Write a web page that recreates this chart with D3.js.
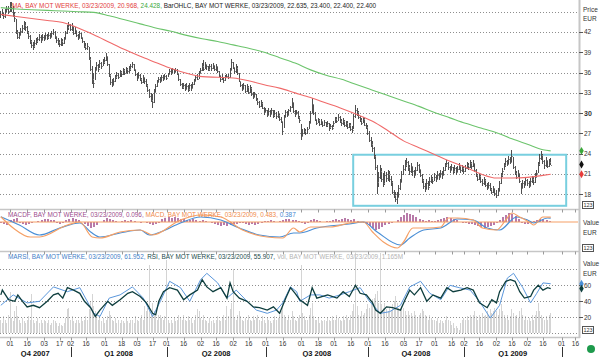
<!DOCTYPE html>
<html>
<head>
<meta charset="utf-8">
<script src="https://cdn.jsdelivr.net/npm/d3@7/dist/d3.min.js"></script>
<style>
html,body{margin:0;padding:0;background:#fff;}
svg{display:block;}
text{font-family:"Liberation Sans",Arial,Helvetica,sans-serif;}
</style>
</head>
<body>
<svg id="chart" width="600" height="357"></svg>
<script>
// ================= DATA =================
const firstBar = "2007-10-24";
const lastBar = "2009-03-23";
const holidays = ["2007-12-24","2007-12-25","2007-12-26","2007-12-31","2008-01-01","2008-03-21","2008-03-24","2008-05-01",
  "2008-12-24","2008-12-25","2008-12-26","2008-12-31","2009-01-01","2009-04-10","2009-04-13"];

// daily OHLC (high, low, close), BAY MOT WERKE, EUR
const hi = [
45.1,45.4,45.0,45.4,45.9,45.8,46.4,46.5,45.9,44.9, 43.9,42.3,42.0,42.6,43.1,43.6,43.5,42.9,42.2,41.5,
40.8,40.5,40.8,41.1,41.3,41.7,41.5,41.7,41.6,41.9, 41.7,42.0,41.9,42.2,42.5,42.1,41.4,41.1,40.8,41.1,
40.9,41.3,42.2,43.0,43.5,43.2,43.3,42.8,42.7,42.2, 41.7,42.1,41.8,41.3,40.7,40.3,40.4,39.8,38.3,37.0,
35.9,36.8,37.5,37.3,37.8,37.6,38.0,38.3,38.9,38.4, 37.3,35.8,35.1,35.2,35.7,36.1,35.9,36.4,36.3,36.7,
36.6,36.8,36.7,36.9,37.2,37.5,37.3,36.6,35.9,36.1, 35.8,35.2,35.6,35.4,35.0,34.3,33.6,33.0,32.8,33.5,
34.3,34.9,35.4,35.3,35.6,35.6,35.8,35.7,36.0,36.5, 36.5,36.7,36.6,36.7,36.5,35.9,35.0,34.5,34.5,34.3,
34.4,34.1,34.5,34.3,34.6,35.1,35.7,35.8,36.2,36.7, 37.4,37.9,37.6,37.3,37.0,37.3,37.2,37.4,37.1,37.2,
36.9,36.3,35.6,35.8,35.4,35.7,35.8,35.8,36.7,38.0, 37.6,36.8,37.2,36.9,35.9,34.8,34.3,34.5,34.1,34.3,
34.0,34.1,33.8,33.2,33.2,32.9,32.3,31.8,31.9,31.6, 30.9,30.8,30.5,30.7,30.4,30.8,30.5,30.4,30.2,30.3,
29.9,29.4,28.9,29.8,30.4,30.3,30.6,31.1,32.3,31.7, 30.4,30.5,30.3,29.6,28.4,27.6,27.8,27.7,27.9,28.8,
30.3,32.3,31.4,30.1,29.2,29.3,29.1,29.2,28.9,29.0, 28.7,28.8,28.6,28.4,28.3,28.9,29.5,29.5,29.9,29.6,
29.1,29.3,29.0,28.9,28.8,28.6,28.5,28.1,29.9,31.2, 30.8,30.3,29.6,29.3,29.4,29.3,28.6,28.2,27.3,26.4,
25.9,25.0,23.8,22.4,21.3,22.3,21.9,21.2,21.5,21.3, 21.6,21.4,20.7,19.9,18.7,18.4,18.3,19.4,20.3,21.5,
22.3,23.0,23.4,22.9,22.3,22.6,22.1,21.6,22.1,22.8, 22.5,21.8,21.0,20.3,19.6,20.2,19.9,20.5,20.9,20.6,
21.1,20.8,21.4,21.2,21.6,21.5,22.0,22.7,23.1,22.8, 22.2,22.5,22.1,22.3,22.0,22.2,22.6,22.3,22.3,22.0,
22.3,22.8,22.6,23.0,22.8,23.1,22.6,21.8,21.0,21.2, 20.8,20.3,20.5,20.2,19.7,19.8,19.6,19.0,19.3,19.0,
18.6,18.9,19.9,21.1,21.9,22.7,23.3,23.1,23.6,23.5, 24.5,23.5,22.2,21.5,21.6,21.2,19.6,20.1,20.0,20.5,
20.3,19.9,20.4,20.7,20.5,21.1,21.6,22.8,23.9,24.4, 23.9,23.0,23.5,23.1,23.2,23.4];
const lo = [
44.1,44.3,43.9,44.1,44.8,44.7,45.0,45.0,44.2,43.5, 41.7,40.9,41.0,41.4,41.9,42.3,42.2,41.7,41.0,40.2,
39.6,39.4,39.7,40.1,40.3,40.7,40.4,40.8,40.6,40.9, 40.8,41.0,40.9,41.2,41.5,41.0,40.4,40.1,39.8,40.0,
39.9,40.2,41.0,41.7,42.3,42.1,42.1,41.6,41.7,41.3, 40.8,41.0,40.9,40.3,39.6,39.3,39.3,37.8,36.2,34.3,
33.7,34.9,36.3,36.1,36.7,36.6,36.9,37.3,37.7,37.0, 35.3,34.2,33.8,34.1,34.6,35.1,35.0,35.3,35.4,35.6,
35.6,35.9,35.8,36.0,36.3,36.7,36.2,35.5,34.8,35.0, 34.7,34.3,34.5,34.3,33.9,33.1,32.3,31.6,30.8,31.5,
33.1,33.9,34.5,34.4,34.6,34.7,34.9,34.9,35.3,35.7, 35.6,35.9,35.8,35.9,35.6,34.8,34.0,33.5,33.6,33.3,
33.4,33.1,33.3,33.3,33.6,34.2,34.7,34.9,35.1,35.8, 36.3,36.3,36.5,36.4,36.2,36.3,36.3,36.5,36.2,36.3,
35.9,35.3,34.6,34.9,34.5,34.8,35.2,35.0,35.2,36.3, 36.5,35.8,36.0,35.6,34.6,33.9,33.3,33.5,33.0,33.2,
32.8,33.0,32.5,32.1,32.2,31.8,31.2,30.7,30.9,30.6, 29.8,30.0,29.4,29.7,29.5,29.8,29.3,29.5,29.2,29.3,
28.9,28.5,26.7,27.8,29.4,29.4,29.8,30.2,30.8,30.0, 29.5,29.7,29.1,28.6,26.0,26.4,26.9,26.7,26.9,27.7,
28.4,30.0,29.7,28.8,28.3,28.5,28.1,28.3,28.0,28.1, 27.9,28.0,27.4,27.7,27.5,27.9,28.5,28.5,28.8,28.6,
28.1,28.3,27.9,28.0,27.6,27.8,27.3,27.1,27.6,29.3, 29.6,29.2,28.7,28.3,28.5,28.1,27.6,26.8,25.8,25.0,
24.3,23.2,21.6,18.1,19.1,20.2,19.8,19.1,19.4,19.8, 20.0,19.8,19.2,18.1,17.4,16.9,16.5,17.4,18.6,19.7,
20.9,21.5,22.0,21.4,20.9,21.2,20.7,20.4,20.9,21.5, 21.2,20.6,19.7,18.8,18.3,18.8,18.6,19.2,19.7,19.5,
19.9,19.8,20.3,20.1,20.6,20.3,20.9,21.5,22.0,21.6, 21.1,21.4,21.0,21.2,20.9,21.2,21.6,21.2,21.3,21.0,
21.3,21.8,21.6,21.9,21.7,22.0,21.3,20.6,20.0,20.1, 19.7,19.3,19.4,19.1,18.6,18.9,18.5,18.0,18.2,17.8,
17.5,17.7,18.4,19.5,20.6,21.6,22.1,22.2,22.4,22.5, 22.7,21.7,20.9,20.3,20.5,19.7,18.1,18.8,19.0,19.2,
19.2,18.9,19.1,19.6,19.4,19.6,20.5,21.1,22.2,23.0, 22.5,21.8,22.1,21.9,22.0,22.4];
const cl = [
44.6,44.9,44.3,45.0,45.4,45.1,45.8,45.5,44.6,44.0, 42.0,41.3,41.6,42.2,42.6,43.1,42.8,42.0,41.4,40.6,
40.1,39.9,40.3,40.6,40.9,41.2,40.8,41.3,41.0,41.5, 41.2,41.6,41.3,41.8,42.0,41.4,40.8,40.5,40.2,40.6,
40.3,40.9,41.8,42.7,43.0,42.4,42.9,41.9,42.3,41.6, 41.1,41.8,41.2,40.6,40.0,39.7,39.9,38.0,36.5,35.0,
34.5,36.4,37.1,36.6,37.4,37.0,37.6,37.9,38.5,37.2, 35.6,34.6,34.2,34.8,35.3,35.7,35.4,36.1,35.8,36.4,
36.0,36.5,36.2,36.6,36.9,37.3,36.5,35.8,35.2,35.7, 35.0,34.6,35.3,34.8,34.2,33.4,32.6,32.0,31.6,33.2,
34.0,34.6,35.1,34.7,35.3,35.0,35.5,35.2,35.8,36.2, 36.0,36.5,36.1,36.4,35.9,35.0,34.3,33.8,34.2,33.6,
34.0,33.5,34.1,33.7,34.3,34.8,35.4,35.1,35.9,36.4, 37.0,36.6,37.3,36.9,36.6,37.0,36.7,37.1,36.5,36.9,
36.3,35.6,35.0,35.3,34.9,35.4,35.5,35.3,36.4,37.6, 36.8,36.2,36.7,35.9,34.8,34.2,33.6,34.1,33.3,33.8,
33.2,33.7,32.9,32.4,32.8,32.0,31.6,31.1,31.5,30.8, 30.2,30.5,29.8,30.3,29.9,30.4,29.7,30.0,29.6,29.8,
29.2,28.8,27.4,29.5,30.1,29.8,30.4,30.9,31.6,30.3, 29.9,30.2,29.4,29.0,26.6,27.1,27.4,27.0,27.6,28.5,
30.0,31.4,30.0,29.1,28.6,29.0,28.4,28.9,28.3,28.7, 28.2,28.5,27.9,28.1,27.8,28.6,29.2,28.8,29.4,28.9,
28.5,28.9,28.2,28.6,28.0,28.3,27.7,27.5,29.6,30.4, 30.2,29.5,29.0,28.6,29.1,28.3,27.9,27.0,26.1,25.5,
24.9,23.6,22.0,19.8,20.5,21.4,20.3,19.6,20.9,20.4, 21.0,20.2,19.8,18.4,17.9,17.3,17.6,18.9,19.8,21.0,
21.7,22.4,22.8,22.1,21.5,22.2,21.4,20.8,21.6,22.3, 21.7,20.9,20.1,19.2,18.8,19.6,19.1,19.9,20.4,20.0,
20.6,20.2,20.9,20.5,21.2,20.8,21.6,22.3,22.7,22.0, 21.6,22.1,21.5,21.9,21.3,21.8,22.2,21.6,21.9,21.4,
21.9,22.4,22.0,22.6,22.2,22.7,21.6,20.9,20.3,20.7, 20.0,19.6,20.1,19.4,19.0,19.4,18.8,18.4,18.9,18.2,
17.9,18.5,19.6,20.8,21.5,22.3,22.9,22.5,23.2,22.8, 23.7,22.0,21.2,20.6,21.1,19.9,18.9,19.6,19.4,20.1,
19.7,19.3,19.9,20.3,19.8,20.6,21.2,22.5,23.3,23.8, 22.9,22.3,23.0,22.2,22.8,22.4];
// daily volume, millions
const vol = [
0.8,0.6,1.0,0.8,0.6,1.1,2.4,0.9,0.7,1.3, 1.6,1.0,0.8,0.6,0.9,0.7,0.6,0.8,1.0,0.8,
2.3,0.8,0.6,0.7,0.9,0.6,0.8,0.6,0.8,0.7, 0.6,0.8,0.5,0.6,0.8,0.7,0.6,0.4,0.6,0.5,
0.4,0.6,0.9,1.4,1.5,0.8,1.0,0.7,0.6,0.8, 0.8,0.6,0.9,0.7,0.8,1.0,0.8,1.4,1.9,2.3,
1.6,1.3,1.0,0.8,1.1,0.7,0.9,0.6,0.8,1.0, 1.3,1.1,0.8,0.7,0.9,0.6,0.8,0.6,0.8,0.7,
0.6,0.9,0.7,0.6,0.8,0.8,0.6,1.0,0.8,0.7, 0.9,1.1,0.8,1.6,1.3,1.5,4.0,1.2,1.8,1.3,
1.0,0.8,1.1,1.1,0.9,0.8,1.0,4.3,0.8,0.6, 0.8,0.6,0.9,0.7,0.8,1.1,0.9,0.8,1.1,0.8,
0.7,1.0,0.8,0.9,0.6,0.8,1.1,1.4,1.3,0.9, 0.8,1.1,0.8,0.7,0.6,0.9,0.7,0.8,0.6,0.8,
1.0,0.8,0.7,0.9,1.1,0.8,1.6,1.0,1.4,1.8, 3.8,0.9,0.8,1.1,1.3,1.0,0.8,0.7,0.9,0.8,
1.1,0.8,0.7,1.0,0.8,0.9,1.1,0.8,0.7,1.0, 0.8,0.6,0.9,0.8,0.7,0.6,0.8,1.0,0.8,0.9,
1.1,1.3,1.8,1.1,0.9,0.8,1.1,0.8,1.3,1.0, 0.8,0.7,0.9,1.1,4.0,1.2,1.0,0.8,0.8,1.1,
1.5,1.8,1.0,0.8,0.8,0.9,0.6,0.8,0.7,0.8, 0.7,0.9,0.8,0.7,1.0,0.8,0.8,1.1,0.9,0.8,
0.7,1.0,0.8,1.1,0.9,0.8,1.1,1.3,1.7,4.9, 1.6,1.1,1.0,1.3,1.1,1.2,1.4,1.7,1.5,1.8,
2.0,2.1,2.3,2.5,1.8,4.7,1.7,1.5,1.8,1.4, 1.3,1.5,1.3,1.7,1.9,2.2,1.8,1.5,1.4,1.6,
1.5,1.3,1.1,1.3,1.1,1.2,1.0,1.3,1.1,0.9, 1.1,1.2,1.4,1.3,1.1,1.0,0.8,1.1,0.9,0.8,
0.8,0.7,0.9,0.6,0.8,0.7,0.6,0.8,1.0,0.8, 0.7,0.5,0.6,0.3,0.4,0.3,0.2,0.6,0.8,0.9,
0.8,1.0,0.8,1.1,0.9,1.1,1.3,1.0,0.8,1.1, 0.9,1.2,1.0,1.1,1.3,1.1,1.4,1.2,1.3,1.5,
1.3,1.1,1.4,1.7,1.3,1.1,0.9,1.1,0.8,1.0, 1.4,1.2,1.0,1.1,0.9,1.3,1.5,1.1,0.8,1.0,
0.8,0.9,0.7,1.1,0.8,1.1,1.3,1.8,1.3,1.1, 0.9,0.8,1.0,0.8,1.1,1.165];

// moving averages, read every 10 sessions (session offset from first bar)
const maK = [0,10,20,30,40,50,60,70,80,90,100,110,120,130,140,150,160,170,180,190,200,210,220,230,240,250,260,270,280,290,300,310,320,330,340,350,355];
const maRed = [44.6,44.3,44.0,43.7,43.4,42.6,41.6,40.5,39.4,38.4,37.5,36.6,35.9,35.4,35.3,35.2,34.8,34.2,33.7,33.0,32.3,31.5,30.7,29.8,28.8,27.4,25.9,24.9,23.9,22.9,22.0,21.0,20.4,20.4,20.5,20.8,20.968];
const maGreen = [45.6,45.4,45.3,45.2,45.1,45.0,44.9,44.4,43.8,43.2,42.6,42.1,41.5,41.0,40.6,40.1,39.6,39.0,38.2,37.4,36.4,35.6,35.0,34.2,33.4,32.6,31.8,31.0,30.1,29.3,28.5,27.8,27.1,26.2,25.4,24.6,24.428];

// MACD and signal (session offset, value)
const macdK = [0,8,19,25,43,51,59,64,77,90,98,116,129,142,156,172,182,189,193,200,213,225,234,240,247,256,260,266,275,284,289,295,305,311,320,326,330,335,342,344,350,355];
const macdV = [0.53,-0.6,-1.5,-1.5,-0.3,0,-1.5,-1.6,-1.0,-0.8,-1.3,0.2,0.7,0.5,-0.8,-1.5,-1.6,-0.6,-1.0,-0.5,-0.5,-0.1,0,-1.0,-2.0,-2.6,-2.0,-0.6,-0.6,-0.5,0.4,0.4,0.2,-0.6,-0.8,0.2,0.9,0.5,-0.1,-0.3,0.5,0.483];
const sigK = [0,12,25,38,51,58,64,77,90,96,103,116,129,142,154,167,180,189,193,204,225,234,243,258,264,273,284,295,305,314,322,333,340,344,353,355];
const sigV = [0.53,-0.3,-1.3,-0.6,-0.1,-1.0,-1.5,-1.1,-0.8,-1.3,-1.0,-0.1,0.5,0.2,-0.6,-1.3,-1.5,-1.1,-1.1,-0.6,-0.2,0,-1.0,-2.3,-1.6,-0.8,-0.6,0.3,0.2,-0.6,-0.8,0.5,0.2,-0.1,0.4,0.387];
// MACDF histogram, every 2nd session
const hist = [
-0.1,-0.2,-0.3,0.2,0.3,0.4,-0.1,-0.2,-0.3,-0.2, -0.1,0,0.1,0.2,0.3,0.3,0.2,0.2,-0.1,-0.2,
-0.1,0.2,0.3,0.4,0.3,0.2,0,-0.2,-0.4,-0.6, -0.5,-0.3,0,0.2,0.4,0.3,0.2,0.1,0,0.1,
0.2,0.1,0.2,0.1,0,-0.1,0,-0.1,-0.2,-0.3, -0.2,-0.1,0.3,0.4,0.5,0.4,0.5,0.4,0.3,0.3,
0.2,0.2,0.3,0.2,0.1,0.2,0.1,0,-0.1,-0.2, -0.3,-0.4,-0.3,-0.4,-0.3,-0.2,-0.2,-0.1,-0.1,-0.2,
-0.3,-0.2,-0.3,-0.2,-0.1,0.1,0.1,0.2,0.1,0, 0.1,0.2,0.3,0.3,0.2,0.2,0.1,-0.1,-0.2,-0.1,
0.2,0.3,0.2,0.1,0,0.1,0.1,0.2,0.3,0.2, 0.3,0.4,0.3,0.2,0.3,0.1,0,-0.1,-0.2,-0.4,
-0.6,-0.8,-0.7,-0.5,-0.3,-0.2,-0.1,0,0.2,0.5, 0.7,0.9,0.8,0.7,0.5,0.3,0.2,0.1,0.2,0.1,
0.1,0.2,0.3,0.4,0.5,0.4,0.3,0.2,0,-0.1, -0.1,-0.2,-0.2,-0.3,-0.4,-0.5,-0.6,-0.5,-0.4,-0.3,
-0.1,0.2,0.5,0.7,0.9,0.8,0.6,0.3,-0.1,-0.2, -0.2,-0.1,0.1,0.2,0.3,0.3,0.2,0.1];

// RSI and MARSI (session offset, value)
const rsiK = [0,1,5,9,11,14,17,21,25,30,34,37,40,43,47,51,54,58,61,64,69,72,77,82,85,90,94,98,100,102,105,109,114,118,122,127,130,133,137,142,146,148,150,154,159,163,167,172,176,180,184,187,190,193,198,201,204,211,217,221,225,229,232,236,240,242,245,249,253,258,261,264,267,271,275,279,284,288,292,297,301,305,309,314,317,320,322,326,329,332,335,338,342,344,347,350,353,355];
const rsiV = [48,54,42,40,48,40,33,35,32,40,48,50,44,57,54,50,40,32,21,29,40,35,42,50,52,46,38,25,23,40,52,57,54,42,48,54,67,58,52,57,44,63,52,44,40,33,32,29,33,25,44,57,50,42,35,57,44,48,44,52,46,60,50,48,38,29,25,33,32,29,42,54,48,57,40,48,44,57,52,54,57,54,38,32,42,38,52,65,67,65,52,44,46,54,60,54,57,55.907];
const marsiK = [0,8,17,25,34,43,51,60,64,70,77,85,92,98,103,109,116,122,129,133,140,146,152,159,165,172,178,182,187,191,193,200,206,212,219,225,232,238,245,251,258,264,271,277,284,290,296,303,309,316,322,327,331,337,342,346,350,355];
const marsiV = [35,48,38,40,58,52,57,25,21,44,48,58,44,21,40,65,57,40,67,75,63,44,54,40,29,25,29,38,58,52,40,48,48,44,48,52,57,40,25,27,35,58,65,50,42,60,57,54,40,19,35,69,75,57,38,50,63,61.952];

// axes / labels
const priceTicks = [18,21,24,27,30,33,36,39,42];
const priceGrid = [18,21,24,27,30,33,36,39,42,45];
const rsiTicks = [20,40,60];
const rsiGrid = [0,20,40,60,80];
const dateTicks = ["2007-11-01","2007-11-16","2007-12-03","2007-12-17","2008-01-02","2008-01-16","2008-02-01","2008-02-18",
  "2008-03-03","2008-03-17","2008-04-01","2008-04-16","2008-05-02","2008-05-16","2008-06-02","2008-06-16","2008-07-01",
  "2008-07-16","2008-08-01","2008-08-18","2008-09-01","2008-09-16","2008-10-01","2008-10-16","2008-11-03","2008-11-17",
  "2008-12-01","2008-12-16","2009-01-02","2009-01-16","2009-02-02","2009-02-16","2009-03-02","2009-03-16","2009-04-01","2009-04-16"];
const quarterNames = ["Q4 2007","Q1 2008","Q2 2008","Q3 2008","Q4 2008","Q1 2009"];
const quarterStarts = ["2007-10-01","2008-01-02","2008-04-01","2008-07-01","2008-10-01","2009-01-02","2009-04-01"];
// highlight box annotation (session offsets, prices)
const boxSessions = [227.5, 365];
const boxPrices = [16.3, 23.85];

// ================= CHART =================
const fmt = d3.utcFormat("%Y-%m-%d");
const allDays = d3.utcDay.range(new Date(Date.UTC(2007,9,1)), new Date(Date.UTC(2009,4,1)))
  .filter(d => d.getUTCDay() % 6 !== 0 && !holidays.includes(fmt(d)));
const sess = new Map(allDays.map((d,i) => [fmt(d), i]));
const s0 = sess.get(firstBar), s1 = sess.get(lastBar);
const PR = 578;
const x = d3.scaleLinear().domain([s0, s1]).range([0.8, 550.7]);
const xk = k => x(s0 + k);
const yP = d3.scaleLinear().domain([18, 42]).range([194.3, 32]);
const yM = d3.scaleLinear().domain([-3, 1.2]).range([252, 210]);
const yR = d3.scaleLinear().domain([0, 100]).range([333.3, 253.3]);
const yV = d3.scaleLinear().domain([0, 4.75]).range([333.3, 252.5]);

const svg = d3.select("#chart");
svg.append("rect").attr("width", 600).attr("height", 357).attr("fill", "#fff");
const defs = svg.append("defs");
defs.append("clipPath").attr("id","cp").append("rect").attr("x",0).attr("y",0).attr("width",PR).attr("height",209);
defs.append("clipPath").attr("id","cm").append("rect").attr("x",0).attr("y",210.5).attr("width",PR).attr("height",40.5);
defs.append("clipPath").attr("id","cr").append("rect").attr("x",0).attr("y",252.5).attr("width",PR).attr("height",84.5);

const dotted = (g, vals, ys) => g.selectAll(null).data(vals).join("line")
  .attr("x1", 0).attr("x2", PR)
  .attr("y1", d => Math.round(ys(d)) + 0.5).attr("y2", d => Math.round(ys(d)) + 0.5)
  .attr("stroke", "#8e8e8e").attr("stroke-width", 1).attr("stroke-dasharray", "1,2");

// ---------- price panel ----------
const gP = svg.append("g").attr("clip-path", "url(#cp)");
dotted(gP, priceGrid, yP);
gP.append("rect")
  .attr("x", xk(boxSessions[0])).attr("y", yP(boxPrices[1]))
  .attr("width", xk(boxSessions[1]) - xk(boxSessions[0]))
  .attr("height", yP(boxPrices[0]) - yP(boxPrices[1]))
  .attr("fill", "none").attr("stroke", "#78cfdf").attr("stroke-width", 2);

const bars = gP.append("g").attr("shape-rendering", "crispEdges").attr("stroke", "#505050").attr("stroke-width", 1);
bars.selectAll(".v").data(d3.range(cl.length)).join("line")
  .attr("x1", k => Math.floor(xk(k)) + 0.5).attr("x2", k => Math.floor(xk(k)) + 0.5)
  .attr("y1", k => yP(hi[k])).attr("y2", k => yP(lo[k]));
bars.selectAll(".c").data(d3.range(cl.length)).join("line")
  .attr("x1", k => Math.floor(xk(k)) + 1).attr("x2", k => Math.floor(xk(k)) + 2)
  .attr("y1", k => Math.round(yP(cl[k])) + 0.5).attr("y2", k => Math.round(yP(cl[k])) + 0.5)
  .attr("stroke", "#8a8a8a");

const maLine = d3.line().x((d, i) => xk(maK[i])).y(d => yP(d)).curve(d3.curveMonotoneX);
gP.append("path").attr("d", maLine(maGreen)).attr("fill", "none").attr("stroke", "#6cc46c").attr("stroke-width", 1.1);
gP.append("path").attr("d", maLine(maRed)).attr("fill", "none").attr("stroke", "#f06a6a").attr("stroke-width", 1.1);

// ---------- MACD panel ----------
const gM = svg.append("g").attr("clip-path", "url(#cm)");
gM.append("g").attr("shape-rendering", "crispEdges").selectAll("line").data(hist).join("line")
  .attr("x1", (d, j) => Math.floor(xk(2 * j)) + 1).attr("x2", (d, j) => Math.floor(xk(2 * j)) + 1)
  .attr("y1", yM(0)).attr("y2", d => yM(d))
  .attr("stroke", "#a65994").attr("stroke-width", 2).attr("stroke-opacity", 0.8);
gM.append("line").attr("x1", 0).attr("x2", PR).attr("y1", yM(0)).attr("y2", yM(0))
  .attr("stroke", "#f5a066").attr("stroke-width", 1.2);
const mLine = (K) => d3.line().x((d, i) => xk(K[i])).y(d => yM(d)).curve(d3.curveMonotoneX);
gM.append("path").attr("d", mLine(sigK)(sigV)).attr("fill", "none").attr("stroke", "#4a8fd6").attr("stroke-width", 1.2);
gM.append("path").attr("d", mLine(macdK)(macdV)).attr("fill", "none").attr("stroke", "#f5a066").attr("stroke-width", 1.2);

// ---------- RSI / volume panel ----------
const gR = svg.append("g").attr("clip-path", "url(#cr)");
gR.append("g").attr("shape-rendering", "crispEdges").selectAll("line").data(vol).join("line")
  .attr("x1", (d, k) => Math.floor(xk(k)) + 0.5).attr("x2", (d, k) => Math.floor(xk(k)) + 0.5)
  .attr("y1", yV(0)).attr("y2", d => yV(d))
  .attr("stroke", "#d4d4d4").attr("stroke-width", 1);
dotted(gR, rsiGrid, yR);
const rLine = (K) => d3.line().x((d, i) => xk(K[i])).y(d => yR(d));
gR.append("path").attr("d", rLine(marsiK)(marsiV)).attr("fill", "none").attr("stroke", "#5b97dc").attr("stroke-width", 1);
gR.append("path").attr("d", rLine(rsiK)(rsiV)).attr("fill", "none").attr("stroke", "#0e3e3e").attr("stroke-width", 1.3);

// ---------- frame ----------
const frame = svg.append("g");
[209.5, 251.5, 337.5].forEach(yy => {
  frame.append("line").attr("x1", 0).attr("x2", 580).attr("y1", yy).attr("y2", yy)
    .attr("stroke", "#c6c6c6").attr("stroke-width", 1.6);
  frame.selectAll(null).data(dateTicks).join("line")
    .attr("x1", d => Math.round(x(sess.get(d))) + 0.5).attr("x2", d => Math.round(x(sess.get(d))) + 0.5)
    .attr("y1", yy).attr("y2", yy + 3).attr("stroke", "#9a9a9a").attr("stroke-width", 1);
});
frame.append("line").attr("x1", 579.5).attr("x2", 579.5).attr("y1", 0).attr("y2", 338)
  .attr("stroke", "#c6c6c6").attr("stroke-width", 2);

// right axis labels
const rt = (tx, xx, yy, opt = {}) => svg.append("text").attr("x", xx).attr("y", yy).text(tx)
  .attr("font-size", opt.size || 6.5).attr("fill", opt.fill || "#333").attr("font-weight", opt.bold ? "bold" : null)
  .attr("text-anchor", opt.anchor || "start");
rt("Price", 583, 11.5); rt("EUR", 583, 20.7);
priceTicks.forEach(v => {
  svg.append("line").attr("x1", 579).attr("x2", 583).attr("y1", Math.round(yP(v)) + 0.5).attr("y2", Math.round(yP(v)) + 0.5)
    .attr("stroke", "#555").attr("stroke-width", 1);
  rt(String(v), 584, yP(v) + 2.4, {bold: v === 30, size: v === 30 ? 7 : 6.5});
});
rt("Value", 583, 225); rt("EUR", 583, 235);
rt("Value", 583, 265.7); rt("EUR", 583, 275.7);
rsiTicks.forEach(v => {
  svg.append("line").attr("x1", 579).attr("x2", 583).attr("y1", Math.round(yR(v)) + 0.5).attr("y2", Math.round(yR(v)) + 0.5)
    .attr("stroke", "#555").attr("stroke-width", 1);
  rt(String(v), 584, yR(v) + 2.4);
});
[201.5, 244.5, 326.5].forEach(yy => {
  svg.append("rect").attr("x", 582.5).attr("y", yy).attr("width", 11).attr("height", 7)
    .attr("fill", "#fff").attr("stroke", "#555").attr("stroke-width", 1);
  rt("123", 588, yy + 5.6, {size: 5.5, anchor: "middle"});
});
// last-value markers
const marker = (yy, color) => svg.append("path").attr("d", d3.symbol(d3.symbolDiamond, 18)())
  .attr("transform", `translate(581.5,${yy})`).attr("fill", color);
marker(yP(maGreen[maGreen.length - 1]), "#3aa83a");
marker(yP(cl[cl.length - 1]), "#111");
marker(yP(maRed[maRed.length - 1]), "#e83a3a");
marker(yR(marsiV[marsiV.length - 1]), "#4a8fd6");
marker(yR(rsiV[rsiV.length - 1]), "#0e3e3e");
svg.append("circle").attr("cx", 591).attr("cy", 349).attr("r", 4).attr("fill", "#1e9a4c");

// date labels
svg.selectAll(".dl").data(dateTicks).join("text")
  .attr("x", d => x(sess.get(d))).attr("y", 346).attr("text-anchor", "middle")
  .attr("font-size", 6.5).attr("fill", "#333").text(d => d.slice(8, 10));
// quarters
const qx = quarterStarts.map(d => x(sess.get(d)));
quarterNames.forEach((q, i) => {
  const a = Math.max(0, qx[i]), b = Math.min(PR, qx[i + 1]);
  svg.append("text").attr("x", (a + b) / 2).attr("y", 355.5).attr("text-anchor", "middle")
    .attr("font-size", 7.5).attr("font-weight", "bold").attr("fill", "#111").text(q);
});
qx.slice(1).forEach(xx => svg.append("line").attr("x1", Math.round(xx) + 0.5).attr("x2", Math.round(xx) + 0.5)
  .attr("y1", 347).attr("y2", 357).attr("stroke", "#333").attr("stroke-width", 1));

// panel titles
const title = (xx, yy, parts) => {
  const t = svg.append("text").attr("x", xx).attr("y", yy).attr("font-size", 6.4);
  parts.forEach(p => t.append("tspan").attr("fill", p[1]).text(p[0]));
};
title(12, 8.2, [["MA, BAY MOT WERKE, 03/23/2009, 20.968,", "#e23c3c"], [" 24.428,", "#3aa83a"],
  [" BarOHLC, BAY MOT WERKE, 03/23/2009, 22.635, 23.400, 22.400, 22.400", "#222"]]);
title(8, 217, [["MACDF, BAY MOT WERKE, 03/23/2009, 0.096,", "#9c4c8c"], [" MACD, BAY MOT WERKE, 03/23/2009, 0.483,", "#f08a4a"],
  [" 0.387", "#3f86d0"]]);
title(8, 259.3, [["MARSI, BAY MOT WERKE, 03/23/2009, 61.952,", "#3f80c8"], [" RSI, BAY MOT WERKE, 03/23/2009, 55.907,", "#1a4c4c"],
  [" Vol, BAY MOT WERKE, 03/23/2009, 1.165M", "#b4b4b4"]]);
</script>
</body>
</html>
